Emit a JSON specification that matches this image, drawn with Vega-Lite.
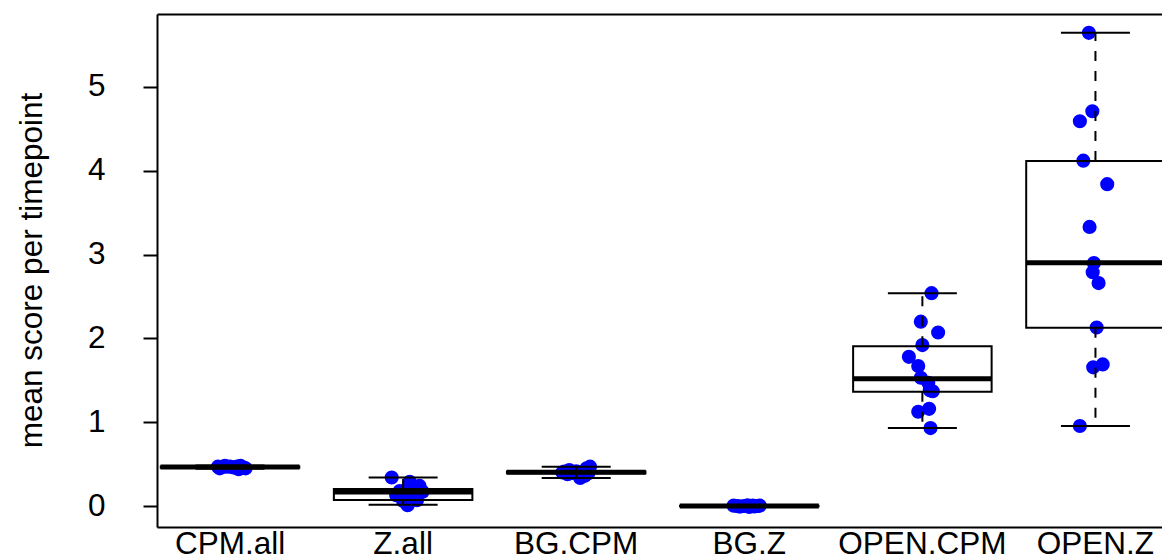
{
  "$schema": "https://vega.github.io/schema/vega-lite/v6.json",
  "width": 1005,
  "height": 513,
  "autosize": {"type": "none"},
  "padding": {"left": 157, "top": 14, "right": 0, "bottom": 32},
  "background": "white",
  "config": {
    "view": {"stroke": null},
    "font": "Liberation Sans",
    "axis": {"grid": false, "domainColor": "black", "domainWidth": 2, "tickColor": "black", "tickWidth": 2, "labelColor": "black", "titleColor": "black", "labelFont": "Liberation Sans", "titleFont": "Liberation Sans"}
  },
  "datasets": {
    "pts": [
      {"group": "CPM.all", "score": 0.47, "jitter": -0.07},
      {"group": "CPM.all", "score": 0.46, "jitter": -0.05},
      {"group": "CPM.all", "score": 0.48, "jitter": -0.03},
      {"group": "CPM.all", "score": 0.45, "jitter": -0.06},
      {"group": "CPM.all", "score": 0.47, "jitter": 0.0},
      {"group": "CPM.all", "score": 0.46, "jitter": 0.02},
      {"group": "CPM.all", "score": 0.47, "jitter": 0.04},
      {"group": "CPM.all", "score": 0.48, "jitter": 0.06},
      {"group": "CPM.all", "score": 0.45, "jitter": 0.09},
      {"group": "CPM.all", "score": 0.46, "jitter": 0.08},
      {"group": "CPM.all", "score": 0.47, "jitter": -0.02},
      {"group": "CPM.all", "score": 0.44, "jitter": 0.05},
      {"group": "CPM.all", "score": 0.46, "jitter": 0.03},
      {"group": "Z.all", "score": 0.34, "jitter": -0.066},
      {"group": "Z.all", "score": 0.29, "jitter": 0.038},
      {"group": "Z.all", "score": 0.24, "jitter": 0.095},
      {"group": "Z.all", "score": 0.20, "jitter": 0.02},
      {"group": "Z.all", "score": 0.19, "jitter": 0.10},
      {"group": "Z.all", "score": 0.18, "jitter": -0.02},
      {"group": "Z.all", "score": 0.17, "jitter": 0.113},
      {"group": "Z.all", "score": 0.13, "jitter": -0.04},
      {"group": "Z.all", "score": 0.10, "jitter": 0.055},
      {"group": "Z.all", "score": 0.07, "jitter": 0.08},
      {"group": "Z.all", "score": 0.06, "jitter": 0.0},
      {"group": "Z.all", "score": 0.05, "jitter": 0.03},
      {"group": "Z.all", "score": 0.01, "jitter": 0.026},
      {"group": "BG.CPM", "score": 0.47, "jitter": 0.08},
      {"group": "BG.CPM", "score": 0.45, "jitter": 0.06},
      {"group": "BG.CPM", "score": 0.43, "jitter": -0.04},
      {"group": "BG.CPM", "score": 0.415, "jitter": 0.0},
      {"group": "BG.CPM", "score": 0.41, "jitter": -0.07},
      {"group": "BG.CPM", "score": 0.405, "jitter": 0.04},
      {"group": "BG.CPM", "score": 0.40, "jitter": -0.08},
      {"group": "BG.CPM", "score": 0.40, "jitter": 0.03},
      {"group": "BG.CPM", "score": 0.395, "jitter": -0.02},
      {"group": "BG.CPM", "score": 0.39, "jitter": 0.07},
      {"group": "BG.CPM", "score": 0.38, "jitter": -0.05},
      {"group": "BG.CPM", "score": 0.36, "jitter": 0.05},
      {"group": "BG.CPM", "score": 0.335, "jitter": 0.023},
      {"group": "BG.Z", "score": 0.005, "jitter": -0.09},
      {"group": "BG.Z", "score": 0.0, "jitter": -0.07},
      {"group": "BG.Z", "score": -0.005, "jitter": -0.05},
      {"group": "BG.Z", "score": 0.0, "jitter": -0.03},
      {"group": "BG.Z", "score": 0.01, "jitter": -0.01},
      {"group": "BG.Z", "score": -0.01, "jitter": 0.0},
      {"group": "BG.Z", "score": 0.0, "jitter": 0.01},
      {"group": "BG.Z", "score": 0.005, "jitter": 0.02},
      {"group": "BG.Z", "score": -0.005, "jitter": 0.03},
      {"group": "BG.Z", "score": 0.0, "jitter": 0.04},
      {"group": "BG.Z", "score": 0.0, "jitter": 0.05},
      {"group": "BG.Z", "score": 0.005, "jitter": 0.06},
      {"group": "BG.Z", "score": -0.005, "jitter": -0.06},
      {"group": "OPEN.CPM", "score": 2.54, "jitter": 0.053},
      {"group": "OPEN.CPM", "score": 2.20, "jitter": -0.009},
      {"group": "OPEN.CPM", "score": 2.07, "jitter": 0.091},
      {"group": "OPEN.CPM", "score": 1.92, "jitter": 0.0},
      {"group": "OPEN.CPM", "score": 1.78, "jitter": -0.078},
      {"group": "OPEN.CPM", "score": 1.67, "jitter": -0.024},
      {"group": "OPEN.CPM", "score": 1.53, "jitter": -0.009},
      {"group": "OPEN.CPM", "score": 1.47, "jitter": 0.034},
      {"group": "OPEN.CPM", "score": 1.38, "jitter": 0.043},
      {"group": "OPEN.CPM", "score": 1.37, "jitter": 0.06},
      {"group": "OPEN.CPM", "score": 1.16, "jitter": 0.039},
      {"group": "OPEN.CPM", "score": 1.125, "jitter": -0.024},
      {"group": "OPEN.CPM", "score": 0.93, "jitter": 0.047},
      {"group": "OPEN.Z", "score": 5.645, "jitter": -0.038},
      {"group": "OPEN.Z", "score": 4.71, "jitter": -0.018},
      {"group": "OPEN.Z", "score": 4.59, "jitter": -0.09},
      {"group": "OPEN.Z", "score": 4.12, "jitter": -0.07},
      {"group": "OPEN.Z", "score": 3.84, "jitter": 0.068},
      {"group": "OPEN.Z", "score": 3.33, "jitter": -0.034},
      {"group": "OPEN.Z", "score": 2.90, "jitter": -0.009},
      {"group": "OPEN.Z", "score": 2.79, "jitter": -0.016},
      {"group": "OPEN.Z", "score": 2.66, "jitter": 0.018},
      {"group": "OPEN.Z", "score": 2.13, "jitter": 0.007},
      {"group": "OPEN.Z", "score": 1.69, "jitter": 0.042},
      {"group": "OPEN.Z", "score": 1.655, "jitter": -0.013},
      {"group": "OPEN.Z", "score": 0.955, "jitter": -0.09}
    ],
    "box": [
      {"group": "CPM.all", "lower": 0.445, "q1": 0.458, "median": 0.465, "q3": 0.472, "upper": 0.485},
      {"group": "Z.all", "lower": 0.015, "q1": 0.072, "median": 0.167, "q3": 0.203, "upper": 0.34},
      {"group": "BG.CPM", "lower": 0.335, "q1": 0.392, "median": 0.402, "q3": 0.413, "upper": 0.469},
      {"group": "BG.Z", "lower": -0.008, "q1": -0.003, "median": 0.0, "q3": 0.003, "upper": 0.008},
      {"group": "OPEN.CPM", "lower": 0.93, "q1": 1.364, "median": 1.52, "q3": 1.906, "upper": 2.54},
      {"group": "OPEN.Z", "lower": 0.955, "q1": 2.128, "median": 2.903, "q3": 4.117, "upper": 5.645}
    ]
  },
  "resolve": {"axis": {"x": "independent"}},
  "layer": [
    {
      "data": {"name": "pts"},
      "mark": {"type": "circle", "color": "#0000ff", "opacity": 1, "size": 200},
      "encoding": {
        "x": {
          "field": "group", "type": "nominal",
          "scale": {"type": "band", "domain": ["CPM.all", "Z.all", "BG.CPM", "BG.Z", "OPEN.CPM", "OPEN.Z"], "range": [0, 1011.5], "paddingInner": 0.2, "paddingOuter": 0.022},
          "axis": {"orient": "bottom", "title": null, "ticks": false, "labelAngle": 0, "labelFontSize": 31.5, "labelPadding": 1, "labelBaseline": "top", "domain": true}
        },
        "xOffset": {"field": "jitter", "type": "quantitative", "scale": {"domain": [-0.4, 0.4]}},
        "y": {
          "field": "score", "type": "quantitative",
          "scale": {"domain": [-0.25, 5.87], "nice": false, "zero": false},
          "axis": {"values": [0, 1, 2, 3, 4, 5], "format": "d", "tickSize": 14, "labelFontSize": 31.5, "labelPadding": 38, "labelAngle": 0, "title": "mean score per timepoint", "titleFontSize": 31.5, "titleFontWeight": "normal", "titleAngle": -90, "titleX": -116, "titleY": 256, "titleAlign": "center", "titleBaseline": "alphabetic"}
        }
      }
    },
    {
      "data": {"name": "box"},
      "mark": {"type": "bar", "fillOpacity": 0, "stroke": "black", "strokeWidth": 2, "width": 138.5},
      "encoding": {
        "x": {"field": "group", "type": "nominal", "axis": null},
        "y": {"field": "q1", "type": "quantitative"},
        "y2": {"field": "q3"}
      }
    },
    {
      "data": {"name": "box"},
      "mark": {"type": "rule", "color": "black", "strokeWidth": 2, "strokeDash": [10, 10]},
      "encoding": {
        "x": {"field": "group", "type": "nominal", "axis": null},
        "y": {"field": "q3", "type": "quantitative"},
        "y2": {"field": "upper"}
      }
    },
    {
      "data": {"name": "box"},
      "mark": {"type": "rule", "color": "black", "strokeWidth": 2, "strokeDash": [10, 10]},
      "encoding": {
        "x": {"field": "group", "type": "nominal", "axis": null},
        "y": {"field": "q1", "type": "quantitative"},
        "y2": {"field": "lower"}
      }
    },
    {
      "data": {"name": "box"},
      "mark": {"type": "tick", "color": "black", "thickness": 2, "size": 69, "opacity": 1},
      "encoding": {
        "x": {"field": "group", "type": "nominal", "axis": null},
        "y": {"field": "upper", "type": "quantitative"}
      }
    },
    {
      "data": {"name": "box"},
      "mark": {"type": "tick", "color": "black", "thickness": 2, "size": 69, "opacity": 1},
      "encoding": {
        "x": {"field": "group", "type": "nominal", "axis": null},
        "y": {"field": "lower", "type": "quantitative"}
      }
    },
    {
      "data": {"name": "box"},
      "mark": {"type": "tick", "color": "black", "thickness": 5, "size": 139, "opacity": 1},
      "encoding": {
        "x": {"field": "group", "type": "nominal", "axis": {"orient": "top", "labels": false, "ticks": false, "title": null, "domain": true}},
        "y": {"field": "median", "type": "quantitative"}
      }
    }
  ]
}
